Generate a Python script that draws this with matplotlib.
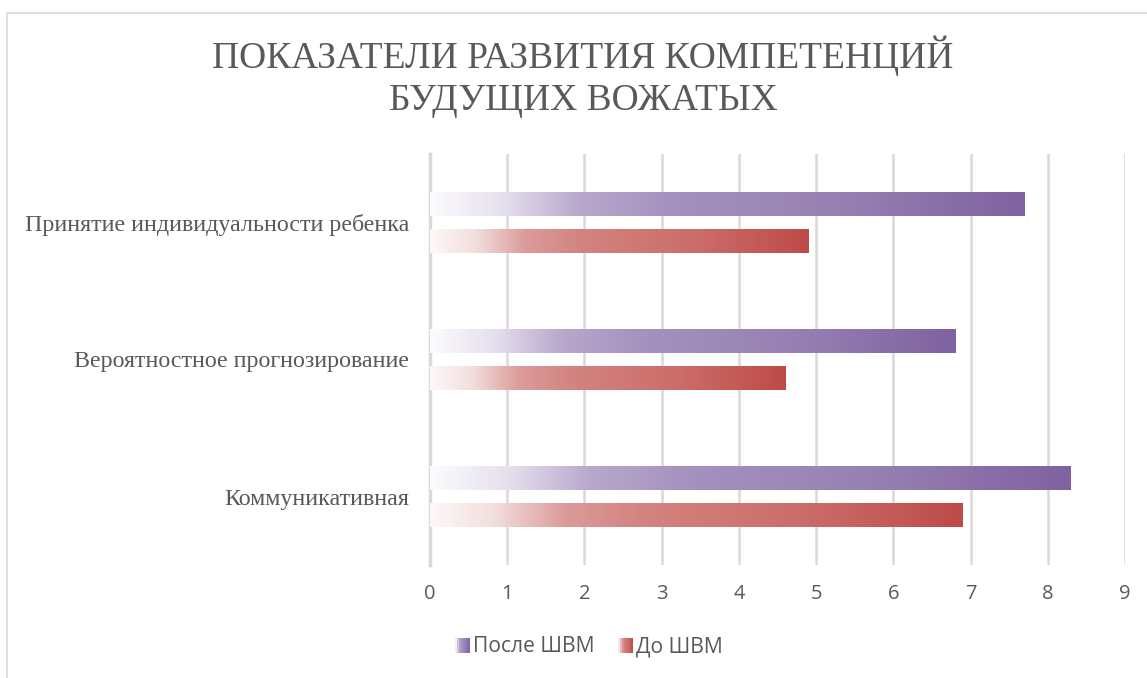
import numpy as np
import matplotlib
matplotlib.use("Agg")
import matplotlib.pyplot as plt
from matplotlib.colors import LinearSegmentedColormap
from matplotlib.patches import Rectangle
from matplotlib.legend_handler import HandlerBase

categories = ["Коммуникативная", "Вероятностное прогнозирование", "Принятие индивидуальности ребенка"]
after_vals = [8.3, 6.8, 7.7]   # После ШВМ
before_vals = [6.9, 4.6, 4.9]  # До ШВМ
series_names = ["После ШВМ", "До ШВМ"]
x_ticks = [0, 1, 2, 3, 4, 5, 6, 7, 8, 9]
title = "ПОКАЗАТЕЛИ РАЗВИТИЯ КОМПЕТЕНЦИЙ\nБУДУЩИХ ВОЖАТЫХ"

purple_stops = [(0.0, "#FCFBFD"), (0.12, "#E6E0EE"), (0.25, "#B8A8CC"),
                (0.4, "#A592BF"), (0.7, "#9680B2"), (1.0, "#7F62A0")]
red_stops = [(0.0, "#FDF8F8"), (0.12, "#F2DEDD"), (0.25, "#DB9C9A"),
             (0.4, "#D38380"), (0.7, "#CB6D6A"), (1.0, "#BE4B48")]
cmaps = [LinearSegmentedColormap.from_list("p", purple_stops),
         LinearSegmentedColormap.from_list("r", red_stops)]

W, H = 1147, 678
fig = plt.figure(figsize=(W / 100, H / 100), dpi=100)
fig.patch.set_facecolor("white")

# chart frame
frame = Rectangle((7 / W, -0.01), 1.2, (H - 13) / H + 0.01, transform=fig.transFigure,
                  fill=False, edgecolor="#D9D9D9", linewidth=1.2)
fig.add_artist(frame)

ax = fig.add_axes([430 / W, 1 - 565 / H, (1125 - 430) / W, (565 - 154) / H])
ax.set_xlim(0, 9)
ax.set_ylim(-0.5, len(categories) - 0.5)

y = np.arange(len(categories))
bh = 0.168
off = 0.135
grad = np.linspace(0, 1, 256).reshape(1, -1)
for vals, sign, cm in [(after_vals, 1, cmaps[0]), (before_vals, -1, cmaps[1])]:
    bars = ax.barh(y + sign * off, vals, height=bh, color="none", edgecolor="none", zorder=3)
    for b in bars:
        x0, y0 = b.get_x(), b.get_y()
        w, h = b.get_width(), b.get_height()
        im = ax.imshow(grad, cmap=cm, extent=[x0, x0 + w, y0, y0 + h],
                       aspect="auto", zorder=3, interpolation="bilinear")
        im.set_clip_path(b)

ax.set_xticks(x_ticks)
ax.grid(axis="x", color="#D9D9D9", linewidth=1.8, zorder=0)
ax.set_axisbelow(True)
for s in ["top", "right", "bottom"]:
    ax.spines[s].set_visible(False)
ax.spines["left"].set_color("#D9D9D9")
ax.spines["left"].set_linewidth(2.5)
ax.tick_params(axis="both", length=0)
ax.tick_params(axis="x", pad=14, labelsize=14.5, labelcolor="#595959")
ax.set_yticks(y)
ax.set_yticklabels(categories, fontsize=17.3, color="#595959", family="Liberation Serif")
ax.tick_params(axis="y", pad=15)
for lbl in ax.get_xticklabels():
    lbl.set_family(["Open Sans", "DejaVu Sans"])

fig.text(583 / W, 1 - 77 / H, title, ha="center", va="center", fontsize=27,
         color="#595959", family="Liberation Serif", linespacing=1.3)


class GradHandler(HandlerBase):
    def __init__(self, cm):
        super().__init__()
        self.cm = cm

    def create_artists(self, legend, orig_handle, xdescent, ydescent, width, height, fontsize, trans):
        arts = []
        n = 8
        for i in range(n):
            c = self.cm((i + 0.5) / n)
            r = Rectangle((i * width / n, -ydescent), width / n + 0.3, height,
                          facecolor=c, edgecolor="none", transform=trans)
            arts.append(r)
        return arts


h1 = Rectangle((0, 0), 1, 1)
h2 = Rectangle((0, 0), 1, 1)
leg = fig.legend([h1, h2], series_names, loc="center", bbox_to_anchor=(589 / W, 1 - 647 / H),
                 ncol=2, frameon=False, handlelength=0.7, handleheight=0.7,
                 handletextpad=0.15, columnspacing=1.1,
                 handler_map={h1: GradHandler(cmaps[0]), h2: GradHandler(cmaps[1])},
                 prop={"family": ["Open Sans", "DejaVu Sans"], "size": 15.2})
for t in leg.get_texts():
    t.set_color("#595959")

fig.savefig("out.png", dpi=100)
